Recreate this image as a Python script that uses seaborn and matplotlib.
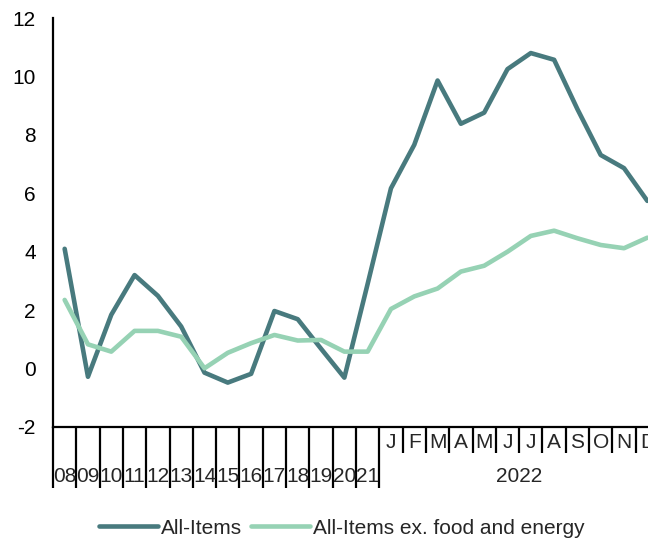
import matplotlib
matplotlib.use("Agg")
import matplotlib.pyplot as plt
import matplotlib.transforms as mtransforms
import seaborn as sns
import pandas as pd
import numpy as np

years = ["08", "09", "10", "11", "12", "13", "14", "15", "16", "17", "18", "19", "20", "21"]
months = ["J", "F", "M", "A", "M", "J", "J", "A", "S", "O", "N", "D"]
month_year = "2022"

all_items = [4.1, -0.28, 1.84, 3.2, 2.49, 1.44, -0.14, -0.48, -0.18, 1.97, 1.69, 0.68, -0.31, 2.9,
             6.17, 7.66, 9.86, 8.38, 8.76, 10.25, 10.8, 10.57, 8.88, 7.31, 6.86, 5.74]
core = [2.35, 0.83, 0.58, 1.29, 1.29, 1.09, 0.01, 0.54, 0.87, 1.15, 0.96, 0.98, 0.58, 0.58,
        2.04, 2.47, 2.74, 3.32, 3.52, 4.0, 4.54, 4.72, 4.46, 4.23, 4.12, 4.48]

series_names = ["All-Items", "All-Items ex. food and energy"]
colors = ["#487A7E", "#96D2B4"]

labels = years + months
n = len(labels)
df = pd.DataFrame({
    "pos": list(range(n)) * 2,
    "value": all_items + core,
    "series": [series_names[0]] * n + [series_names[1]] * n,
})

sns.set_style("white")
plt.rcParams["font.family"] = ["Liberation Sans", "DejaVu Sans"]
FS = 15

W, H = 648, 543
fig = plt.figure(figsize=(W / 100, H / 100), dpi=100)
left_px, right_px, top_px, bot_px = 53, 659, 18, 427
ax = fig.add_axes([left_px / W, 1 - bot_px / H, (right_px - left_px) / W, (bot_px - top_px) / H])

sns.lineplot(data=df, x="pos", y="value", hue="series", palette=colors, linewidth=3.3,
             ax=ax, legend=False, sort=False)

ax.set_xlim(-0.5, n - 0.5)
ax.set_ylim(-2, 12)
ax.set_yticks(range(-2, 13, 2))
ax.set_yticklabels([str(v) for v in range(-2, 13, 2)], fontsize=FS)
ax.set_xticks([])
ax.set_xlabel("")
ax.set_ylabel("")
for s in ["top", "right"]:
    ax.spines[s].set_visible(False)
for s in ["left", "bottom"]:
    ax.spines[s].set_linewidth(1.6)
    ax.spines[s].set_color("black")
ax.tick_params(axis="y", direction="out", length=4.5, width=1.4, color="black", pad=8, labelcolor="black")

trans = mtransforms.blended_transform_factory(ax.transData, ax.transAxes)
axh = bot_px - top_px
long_len = (488 - bot_px) / axh
short_len = (453 - bot_px) / axh
ny = len(years)
for i in range(n + 1):
    b = i - 0.5
    length = long_len if i <= ny else short_len
    ax.plot([b, b], [0, -length], transform=trans, color="black", lw=1.6, clip_on=False,
            solid_capstyle="butt")

month_y = -(442 - bot_px) / axh
year_y = -(477 - bot_px) / axh
for i, lab in enumerate(years):
    ax.text(i, year_y, lab, transform=trans, ha="center", va="center", fontsize=FS)
for j, lab in enumerate(months):
    ax.text(ny + j, month_y, lab, transform=trans, ha="center", va="center", fontsize=FS)
ax.text(ny + (len(months) - 1) / 2, year_y, month_year, transform=trans, ha="center",
        va="center", fontsize=FS)

from matplotlib.lines import Line2D
handles = [Line2D([], [], color=c, lw=3.3, solid_capstyle="round") for c in colors]
fig.legend(handles, series_names, loc="center", bbox_to_anchor=(342 / W, 1 - 528 / H),
           ncol=2, frameon=False, fontsize=FS, handlelength=2.8, handletextpad=0.15,
           columnspacing=0.45, borderaxespad=0, borderpad=0)

fig.savefig("out.png", dpi=100)
